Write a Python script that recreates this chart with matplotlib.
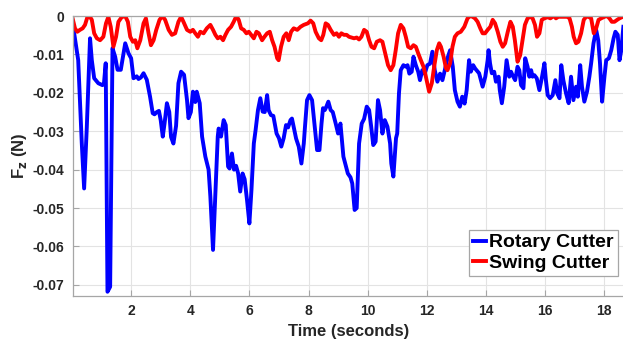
import matplotlib
matplotlib.use("Agg")
import matplotlib.pyplot as plt

plt.rcParams["font.family"] = ["Liberation Sans", "DejaVu Sans"]
plt.rcParams["font.weight"] = "bold"
plt.rcParams["axes.unicode_minus"] = False

# Rotary cutter trace
rotary_t = [0.03, 0.21, 0.33, 0.41, 0.5, 0.61, 0.67, 0.75, 0.89, 1.03, 1.08, 1.14, 1.2, 1.29,
            1.37, 1.46, 1.54, 1.65, 1.8, 1.91, 2.0, 2.08, 2.19, 2.25, 2.33, 2.42, 2.53, 2.64,
            2.73, 2.79, 2.87, 2.94, 3.0, 3.07, 3.13, 3.21, 3.29, 3.35, 3.43, 3.52, 3.6, 3.69,
            3.79, 3.89, 3.94, 4.02, 4.09, 4.17, 4.22, 4.32, 4.4, 4.51, 4.62, 4.68, 4.77, 4.85,
            4.93, 4.96, 5.04, 5.13, 5.2, 5.28, 5.33, 5.41, 5.48, 5.55, 5.62, 5.69, 5.77, 5.84,
            5.92, 6.0, 6.07, 6.15, 6.21, 6.29, 6.37, 6.45, 6.52, 6.6, 6.65, 6.73, 6.81, 6.92,
            7.0, 7.08, 7.16, 7.24, 7.31, 7.39, 7.44, 7.5, 7.58, 7.67, 7.76, 7.84, 7.88, 7.95,
            8.03, 8.12, 8.2, 8.29, 8.37, 8.44, 8.49, 8.55, 8.6, 8.67, 8.75, 8.82, 8.92, 9.0,
            9.08, 9.18, 9.26, 9.33, 9.42, 9.48, 9.56, 9.63, 9.71, 9.8, 9.88, 9.97, 10.05,
            10.12, 10.19, 10.27, 10.35, 10.42, 10.5, 10.58, 10.67, 10.76, 10.8, 10.87, 10.96,
            11.0, 11.06, 11.12, 11.21, 11.29, 11.35, 11.41, 11.49, 11.55, 11.63, 11.71, 11.77,
            11.85, 11.93, 12.02, 12.11, 12.19, 12.27, 12.36, 12.45, 12.53, 12.61, 12.7, 12.79,
            12.88, 12.95, 13.04, 13.12, 13.2, 13.28, 13.35, 13.43, 13.49, 13.57, 13.64, 13.77,
            13.83, 13.89, 13.98, 14.06, 14.09, 14.14, 14.2, 14.28, 14.34, 14.43, 14.47, 14.54,
            14.62, 14.7, 14.79, 14.85, 14.9, 14.99, 15.07, 15.13, 15.19, 15.27, 15.33, 15.41,
            15.47, 15.53, 15.58, 15.64, 15.72, 15.81, 15.9, 15.98, 16.03, 16.09, 16.17, 16.26,
            16.35, 16.41, 16.49, 16.55, 16.62, 16.71, 16.8, 16.88, 16.96, 17.05, 17.11, 17.19,
            17.25, 17.33, 17.42, 17.5, 17.56, 17.64, 17.73, 17.8, 17.86, 17.93, 18.01, 18.07,
            18.16, 18.24, 18.32, 18.38, 18.46, 18.52, 18.58, 18.65]
rotary_fz = [-0.0023, -0.0115, -0.033, -0.0449, -0.029, -0.0058, -0.0115, -0.0162, -0.0175,
             -0.018, -0.0176, -0.0123, -0.0718, -0.0705, -0.0084, -0.0106, -0.014, -0.014,
             -0.0071, -0.0097, -0.011, -0.0162, -0.0157, -0.0164, -0.016, -0.0149, -0.0166,
             -0.021, -0.0253, -0.0256, -0.025, -0.0247, -0.0271, -0.0314, -0.028, -0.0227,
             -0.025, -0.0315, -0.0332, -0.0286, -0.0175, -0.0145, -0.0153, -0.0219, -0.0266,
             -0.025, -0.0197, -0.0224, -0.0197, -0.0227, -0.0314, -0.0366, -0.040, -0.047,
             -0.0609, -0.0462, -0.0314, -0.0293, -0.0314, -0.0271, -0.0284, -0.0392, -0.0397,
             -0.0358, -0.040, -0.039, -0.041, -0.0457, -0.041, -0.0425, -0.0479, -0.054,
             -0.0453, -0.0332, -0.0297, -0.0245, -0.0214, -0.0249, -0.025, -0.0206, -0.0245,
             -0.0258, -0.026, -0.0306, -0.0318, -0.034, -0.0318, -0.0284, -0.029, -0.0271,
             -0.0267, -0.0289, -0.0319, -0.034, -0.0384, -0.0332, -0.0289, -0.0219, -0.0206,
             -0.0219, -0.028, -0.0349, -0.0349, -0.028, -0.024, -0.0245, -0.0237, -0.0223,
             -0.0245, -0.025, -0.028, -0.0306, -0.028, -0.0366, -0.0389, -0.041, -0.042,
             -0.0436, -0.0505, -0.050, -0.0332, -0.028, -0.0268, -0.0236, -0.0245, -0.0288,
             -0.0336, -0.0327, -0.0219, -0.0245, -0.0306, -0.0271, -0.0288, -0.0332, -0.0384,
             -0.0418, -0.0318, -0.0306, -0.0201, -0.0141, -0.0128, -0.0132, -0.0128, -0.015,
             -0.0145, -0.0106, -0.0128, -0.0145, -0.0167, -0.0141, -0.015, -0.0128, -0.0124,
             -0.0093, -0.0141, -0.0171, -0.015, -0.0167, -0.0141, -0.011, -0.0089, -0.0132,
             -0.0193, -0.0223, -0.0236, -0.021, -0.0228, -0.0193, -0.0115, -0.0145, -0.0128,
             -0.0137, -0.0149, -0.0167, -0.0184, -0.0158, -0.0115, -0.0089, -0.0123, -0.0149,
             -0.0145, -0.0171, -0.0158, -0.0193, -0.0227, -0.0184, -0.0115, -0.0158, -0.0145,
             -0.0154, -0.0167, -0.0132, -0.0141, -0.018, -0.0188, -0.011, -0.0132, -0.0158,
             -0.0141, -0.0158, -0.0154, -0.0162, -0.0193, -0.0158, -0.0123, -0.0167, -0.0206,
             -0.0214, -0.0206, -0.0167, -0.0201, -0.0214, -0.0128, -0.0167, -0.0201, -0.0227,
             -0.0158, -0.0219, -0.0184, -0.021, -0.0128, -0.0184, -0.0223, -0.0197, -0.0158,
             -0.0123, -0.0071, -0.0036, -0.0063, -0.0123, -0.0223, -0.0158, -0.0115, -0.011,
             -0.0089, -0.0058, -0.0041, -0.0049, -0.0115, -0.0089, -0.0028]

# Swing cutter trace
swing_t = [0.02, 0.10, 0.18, 0.27, 0.36, 0.44, 0.52, 0.59, 0.67, 0.75, 0.84, 0.95, 1.06, 1.15,
           1.23, 1.31, 1.40, 1.49, 1.57, 1.68, 1.80, 1.89, 1.97, 2.06, 2.14, 2.21, 2.31, 2.42,
           2.50, 2.59, 2.67, 2.76, 2.85, 2.96, 3.06, 3.15, 3.27, 3.38, 3.49, 3.60, 3.69, 3.77,
           3.89, 4.00, 4.09, 4.17, 4.26, 4.34, 4.45, 4.56, 4.68, 4.77, 4.85, 4.93, 5.02, 5.11,
           5.19, 5.28, 5.38, 5.47, 5.56, 5.64, 5.72, 5.81, 5.90, 5.98, 6.06, 6.15, 6.24, 6.32,
           6.43, 6.51, 6.60, 6.69, 6.77, 6.85, 6.94, 6.99, 7.07, 7.16, 7.25, 7.33, 7.41, 7.50,
           7.62, 7.73, 7.84, 7.98, 8.07, 8.16, 8.24, 8.35, 8.43, 8.5, 8.58, 8.66, 8.75, 8.86,
           8.95, 9.03, 9.11, 9.2, 9.29, 9.37, 9.45, 9.54, 9.63, 9.71, 9.79, 9.88, 9.97, 10.05,
           10.13, 10.22, 10.31, 10.42, 10.5, 10.58, 10.69, 10.78, 10.87, 10.95, 11.03, 11.12,
           11.21, 11.29, 11.37, 11.46, 11.55, 11.63, 11.71, 11.8, 11.89, 11.97, 12.08, 12.17,
           12.25, 12.34, 12.42, 12.48, 12.57, 12.65, 12.7, 12.79, 12.87, 12.95, 13.04, 13.15,
           13.27, 13.38, 13.47, 13.55, 13.63, 13.72, 13.81, 13.89, 13.97, 14.06, 14.15, 14.23,
           14.31, 14.4, 14.49, 14.57, 14.65, 14.74, 14.83, 14.91, 14.98, 15.07, 15.16, 15.24,
           15.32, 15.41, 15.5, 15.58, 15.66, 15.73, 15.81, 15.89, 15.98, 16.09, 16.18, 16.3,
           16.37, 16.45, 16.54, 16.66, 16.75, 16.83, 16.91, 16.97, 17.05, 17.13, 17.22, 17.31,
           17.39, 17.47, 17.56, 17.65, 17.73, 17.81, 17.9, 18.01, 18.1, 18.18, 18.26, 18.35,
           18.44, 18.52, 18.63]
swing_fz = [-0.0006, -0.0032, -0.0041, -0.0036, -0.0032, -0.0023, -0.0003, 0.0, -0.001,
            -0.0045, -0.0058, -0.0063, -0.0054, -0.0019, -0.0002, -0.0028, -0.008, -0.0054,
            -0.0015, -0.0003, 0.0, -0.0015, -0.0054, -0.0067, -0.0063, -0.0084, -0.0063,
            -0.0019, -0.0006, -0.0045, -0.0076, -0.0063, -0.0036, -0.001, 0.0, -0.001,
            -0.0036, -0.0049, -0.0045, -0.0015, -0.0002, -0.0015, -0.0036, -0.0041, -0.0036,
            -0.0045, -0.0054, -0.0041, -0.0045, -0.0032, -0.0023, -0.0036, -0.0049, -0.0058,
            -0.0054, -0.0063, -0.0049, -0.0036, -0.0028, -0.0015, 0.0, -0.001, -0.0032,
            -0.0036, -0.0045, -0.0041, -0.0049, -0.0058, -0.0041, -0.0045, -0.0063, -0.0054,
            -0.0045, -0.0041, -0.0063, -0.008, -0.011, -0.0115, -0.008, -0.0054, -0.0045,
            -0.0063, -0.0041, -0.0032, -0.0036, -0.0028, -0.0023, -0.0019, -0.0012, -0.0019,
            -0.0041, -0.0058, -0.0063, -0.0049, -0.0019, -0.0023, -0.0036, -0.0049, -0.0045,
            -0.0054, -0.0045, -0.0049, -0.0049, -0.0054, -0.0056, -0.0058, -0.0056, -0.0061,
            -0.0054, -0.0036, -0.0041, -0.0063, -0.008, -0.0084, -0.0067, -0.0063, -0.0067,
            -0.0093, -0.0128, -0.0141, -0.0128, -0.0089, -0.0045, -0.0023, -0.0032, -0.0054,
            -0.008, -0.0084, -0.0076, -0.008, -0.0097, -0.0115, -0.0132, -0.0158, -0.0197,
            -0.0175, -0.0132, -0.0089, -0.0071, -0.008, -0.0106, -0.0136, -0.0141, -0.0123,
            -0.008, -0.0054, -0.0045, -0.0041, -0.0028, -0.0006, 0.0, -0.0002, -0.0006,
            -0.0015, -0.0032, -0.0045, -0.0045, -0.0036, -0.0028, -0.001, -0.0019, -0.0041,
            -0.0067, -0.008, -0.0071, -0.0041, -0.0015, -0.0028, -0.0063, -0.0119, -0.0102,
            -0.0063, -0.0023, -0.0006, -0.0002, -0.0006, -0.0023, -0.0054, -0.0045, -0.001,
            -0.0006, -0.0003, -0.0006, 0.0, -0.0006, -0.0002, -0.0002, -0.0002, -0.0002,
            -0.0006, -0.0028, -0.0054, -0.0071, -0.0067, -0.0045, -0.001, -0.0002, -0.0002,
            -0.0006, -0.0045, -0.0032, -0.001, -0.0006, -0.0002, 0.0, -0.0006, -0.0015,
            -0.0015, -0.001, -0.0006, -0.0002]

y_ticks = [-0.07, -0.06, -0.05, -0.04, -0.03, -0.02, -0.01, 0]
y_tick_labels = ["-0.07", "-0.06", "-0.05", "-0.04", "-0.03", "-0.02", "-0.01", "0"]
x_ticks = [2, 4, 6, 8, 10, 12, 14, 16, 18]

fig = plt.figure(figsize=(6.23, 3.41), dpi=100)
ax = fig.add_axes([0.117, 0.132, 0.885, 0.821])

ax.plot(rotary_t, rotary_fz, color="#0000ff", lw=2.8, label="Rotary Cutter")
ax.plot(swing_t, swing_fz, color="#ff0000", lw=2.8, label="Swing Cutter")

ax.set_xlim(0.03, 18.68)
ax.set_ylim(-0.0729, 0)
ax.set_xticks(x_ticks)
ax.set_yticks(y_ticks)
ax.set_yticklabels(y_tick_labels)

ax.grid(True, color="#e3e3e3", lw=0.8)
ax.set_axisbelow(True)
for side in ["left", "bottom", "top", "right"]:
    ax.spines[side].set_color("#a6a6a6")
    ax.spines[side].set_linewidth(0.9)
ax.tick_params(direction="in", length=4, width=0.8, color="#a6a6a6",
               labelsize=10, labelcolor="#262626", pad=6)
for lab in ax.get_xticklabels() + ax.get_yticklabels():
    lab.set_fontweight("bold")

ax.set_xlabel("Time (seconds)", fontsize=12, fontweight="bold", color="#262626", labelpad=4)
ax.set_ylabel("F$_\\mathbf{z}$ (N)", fontsize=12, fontweight="bold", color="#262626", labelpad=3)

leg = ax.legend(loc="lower right", bbox_to_anchor=(0.988, 0.072), fontsize=14,
                handlelength=0.7, handletextpad=0.15, borderpad=0.2, labelspacing=0.15,
                fancybox=False, framealpha=1, borderaxespad=0)
leg.get_frame().set_edgecolor("#a6a6a6")
leg.get_frame().set_linewidth(0.9)
for txt in leg.get_texts():
    txt.set_fontweight("bold")

fig.savefig("out.png", dpi=100)
